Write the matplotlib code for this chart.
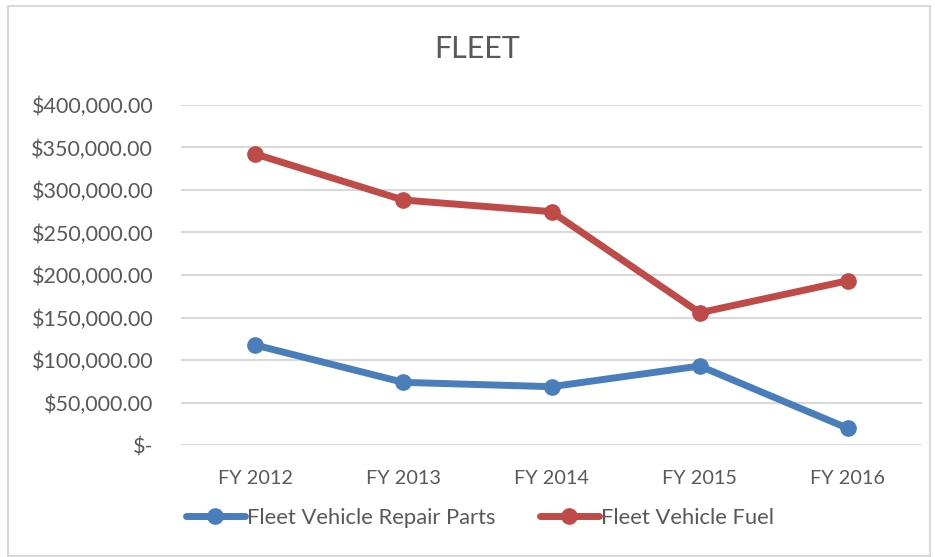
import matplotlib.pyplot as plt
from matplotlib.patches import Rectangle
from matplotlib.ticker import FuncFormatter

# Données du graphique
annees = ['FY 2012', 'FY 2013', 'FY 2014', 'FY 2015', 'FY 2016']
pieces_reparation = [117600, 73700, 68600, 92900, 19600]
carburant = [342400, 288200, 274500, 155600, 193300]
noms_series = ['Fleet Vehicle Repair Parts', 'Fleet Vehicle Fuel']

# Style
BLEU = '#4A7EBB'
ROUGE = '#BE4B48'
GRIS_TEXTE = '#595959'
GRIS_GRILLE = '#D9D9D9'
POLICE = 'Lato'


def format_dollars(valeur, pos):
    if valeur == 0:
        return '$-'
    return f'${valeur:,.2f}'


fig = plt.figure(figsize=(9.35, 5.57), dpi=100)
ax = fig.add_axes([181 / 935, 1 - 445 / 557, 741 / 935, 340 / 557])

x = range(len(annees))
ax.plot(x, pieces_reparation, color=BLEU, linewidth=5, marker='o',
        markersize=11, label=noms_series[0], solid_capstyle='round')
ax.plot(x, carburant, color=ROUGE, linewidth=5, marker='o',
        markersize=11, label=noms_series[1], solid_capstyle='round')

# Axes
ax.set_xlim(-0.5, len(annees) - 0.5)
ax.set_ylim(0, 400000)
ax.set_yticks(range(0, 400001, 50000))
ax.yaxis.set_major_formatter(FuncFormatter(format_dollars))
ax.set_xticks(list(x))
ax.set_xticklabels(annees)
ax.tick_params(length=0, labelcolor=GRIS_TEXTE)
ax.tick_params(axis='y', pad=20, labelsize=15.5)
ax.tick_params(axis='x', pad=18, labelsize=14.3)
for lab in ax.get_xticklabels() + ax.get_yticklabels():
    lab.set_family(POLICE)
for cote in ax.spines.values():
    cote.set_visible(False)
ax.grid(axis='y', color=GRIS_GRILLE, linewidth=1.5)
ax.set_axisbelow(True)

# Titre
fig.text(477 / 935, 1 - 49 / 557, 'FLEET', ha='center', va='center',
         fontsize=22, color=GRIS_TEXTE, family=POLICE)

# Légende
fig.legend(loc='center', bbox_to_anchor=(480 / 935, 1 - 518 / 557), ncol=2,
           frameon=False, prop={'family': POLICE, 'size': 15.8},
           labelcolor=GRIS_TEXTE, handlelength=2.7, handletextpad=0.1,
           columnspacing=2.0)

# Cadre extérieur
fig.patches.append(Rectangle((8 / 935, 1 / 557), 922 / 935, 550 / 557,
                             transform=fig.transFigure, fill=False,
                             edgecolor='#D9D9D9', linewidth=1.5))

fig.savefig('out.png', dpi=100)
